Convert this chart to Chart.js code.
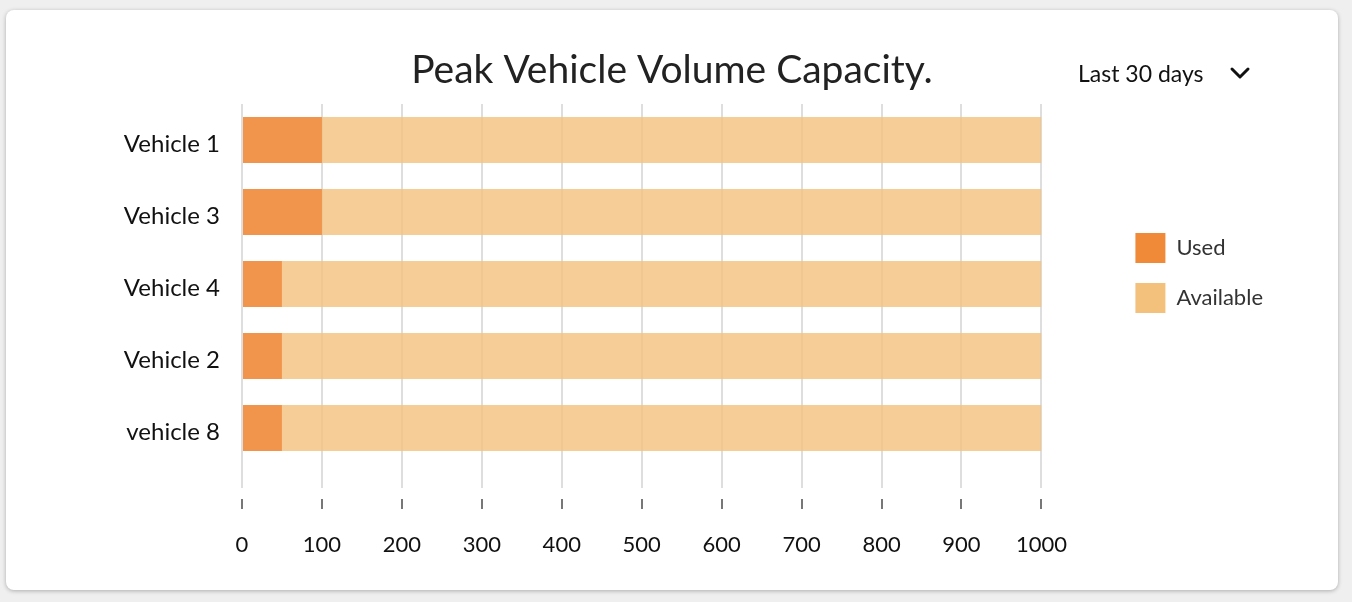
<!DOCTYPE html>
<html>
<head>
<meta charset="utf-8">
<script src="https://cdn.jsdelivr.net/npm/chart.js@4.4.1/dist/chart.umd.min.js"></script>
<style>
  html, body { margin: 0; padding: 0; background: #efefef; width: 1352px; height: 602px; overflow: hidden; }
  .card { position: absolute; left: 6px; top: 10px; width: 1332px; height: 580px; background: #fff; border-radius: 8px; box-shadow: 0 1px 4px rgba(0,0,0,0.28); }
  #chart { position: absolute; left: 0; top: 0; }
  .dropdown { position: absolute; left: 1078px; top: 59px; font-family: Lato, sans-serif; font-size: 23px; color: #111; }
  .chev { position: absolute; left: 1228px; top: 64px; }
</style>
</head>
<body>
<div class="card"></div>
<canvas id="chart" width="1352" height="602"></canvas>
<div class="dropdown">Last 30 days</div>
<svg class="chev" width="26" height="20" viewBox="0 0 26 20"><polyline points="4,5 12,13 20,5" fill="none" stroke="#111" stroke-width="3" stroke-linecap="round" stroke-linejoin="round"/></svg>
<script>
const categories = ['Vehicle 1', 'Vehicle 3', 'Vehicle 4', 'Vehicle 2', 'vehicle 8'];
const usedValues = [100, 100, 50, 50, 50];
const availableValues = [900, 900, 950, 950, 950];
const seriesNames = ['Used', 'Available'];
const xMin = 0, xMax = 1000, xStep = 100;

const solidColors = ['#F08938', '#F4C17D'];
const barColors = ['rgba(240,137,56,0.9)', 'rgba(244,193,125,0.8)'];

const tickMarks = {
  id: 'tickMarks',
  afterDraw(chart) {
    const sx = chart.scales.x;
    const ctx = chart.ctx;
    const y0 = chart.chartArea.bottom + 35;
    ctx.save();
    ctx.strokeStyle = '#777';
    ctx.lineWidth = 2;
    sx.ticks.forEach((t, i) => {
      const px = Math.round(sx.getPixelForTick(i));
      ctx.beginPath();
      ctx.moveTo(px, y0);
      ctx.lineTo(px, y0 + 10);
      ctx.stroke();
    });
    ctx.restore();
  }
};

new Chart(document.getElementById('chart'), {
  type: 'bar',
  data: {
    labels: categories,
    datasets: [
      { label: seriesNames[0], data: usedValues, backgroundColor: barColors[0], borderWidth: 0, yAxisID: 'y', barPercentage: 0.8, categoryPercentage: 0.8 },
      { label: seriesNames[1], data: availableValues, backgroundColor: barColors[1], borderWidth: 0, yAxisID: 'y', barPercentage: 0.8, categoryPercentage: 0.8 }
    ]
  },
  options: {
    indexAxis: 'y',
    responsive: false,
    animation: false,
    devicePixelRatio: 1,
    layout: { padding: { left: 71, right: 79, top: 0, bottom: 38 } },
    plugins: {
      title: {
        display: true,
        text: 'Peak Vehicle Volume Capacity.',
        color: '#222',
        font: { family: 'Lato', size: 39, weight: 'normal' },
        padding: { top: 46.6, bottom: 10.6 }
      },
      legend: {
        position: 'right',
        align: 'start',
        title: { display: true, text: ' ', font: { family: 'Lato', size: 20, lineHeight: 1 }, padding: { top: 193, bottom: 0 } },
        labels: {
          boxWidth: 30,
          boxHeight: 30,
          padding: 20,
          color: '#333',
          font: { family: 'Lato', size: 22 },
          generateLabels(chart) {
            return Chart.defaults.plugins.legend.labels.generateLabels(chart).map((l, i) => Object.assign(l, { fillStyle: solidColors[i], strokeStyle: solidColors[i], lineWidth: 0 }));
          }
        }
      },
      tooltip: { enabled: false }
    },
    scales: {
      x: {
        stacked: true,
        min: xMin,
        max: xMax,
        position: 'bottom',
        border: { display: false },
        grid: { color: '#dedede', lineWidth: 2, drawTicks: true, tickLength: 24, tickColor: '#dedede' },
        ticks: { stepSize: xStep, color: '#111', padding: 44, font: { family: 'Lato', size: 22 }, maxRotation: 0, callback: v => String(v) },
        afterFit(s) { s.height = 100; }
      },
      y: {
        stacked: true,
        position: 'left',
        border: { display: false },
        grid: { display: false, drawTicks: false },
        ticks: { color: '#111', padding: 22, labelOffset: 4, font: { family: 'Lato', size: 24 } },
        afterFit(s) { s.width = 171; }
      },
      y2: {
        type: 'linear',
        position: 'right',
        display: true,
        border: { display: false },
        grid: { display: false, drawTicks: false },
        ticks: { display: false },
        afterFit(s) { s.width = 74; }
      }
    }
  },
  plugins: [tickMarks]
});
</script>
</body>
</html>
